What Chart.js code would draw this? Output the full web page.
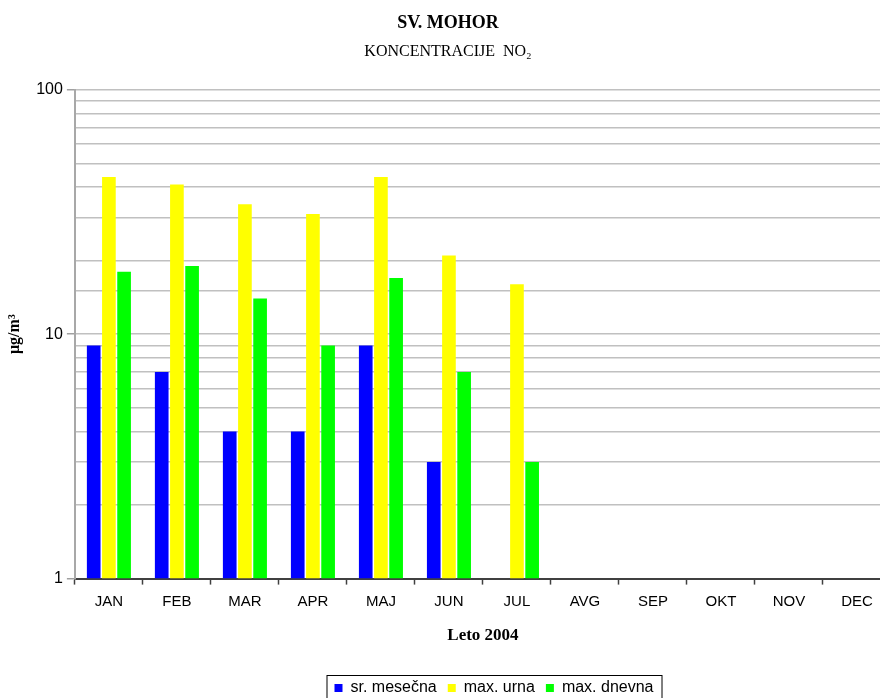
<!DOCTYPE html>
<html>
<head>
<meta charset="utf-8">
<title>SV. MOHOR - NO2</title>
<script src="https://cdn.jsdelivr.net/npm/chart.js@4.4.1/dist/chart.umd.min.js"></script>
<style>
  html, body { margin: 0; padding: 0; background: #ffffff; overflow: hidden; }
  #wrap { width: 916px; height: 706px; }
</style>
</head>
<body>
<div id="wrap"><canvas id="no2Chart" width="916" height="706"></canvas></div>
<script>
// podatki - koncentracije NO2, Sv. Mohor, leto 2004
const months = ['JAN', 'FEB', 'MAR', 'APR', 'MAJ', 'JUN', 'JUL', 'AVG', 'SEP', 'OKT', 'NOV', 'DEC'];
const srMesecna = [9, 7, 4, 4, 9, 3, null, null, null, null, null, null];
const maxUrna = [44, 41, 34, 31, 44, 21, 16, null, null, null, null, null];
const maxDnevna = [18, 19, 14, 9, 17, 7, 3, null, null, null, null, null];
const yTickLabels = [1, 10, 100];

const serif = '"Liberation Serif", "Times New Roman", serif';
const sans = '"Liberation Sans", Arial, sans-serif';

// okvir okoli legende + premik legende pod sredino grafa
const legendBox = {
    id: 'legendBox',
    afterLayout(chart) {
        chart.legend.left += 92;
    },
    afterDraw(chart) {
        const boxes = chart.legend.legendHitBoxes;
        if (!boxes || !boxes.length) return;
        const first = boxes[0];
        const last = boxes[boxes.length - 1];
        const ctx = chart.ctx;
        ctx.save();
        ctx.strokeStyle = '#000000';
        ctx.lineWidth = 1;
        ctx.strokeRect(first.left - 7.5, first.top - 4.5, last.left + last.width - first.left + 16, 26);
        ctx.restore();
    }
};

const barData = {
    labels: months,
    datasets: [{
        label: 'sr. mesečna',
        data: srMesecna,
        backgroundColor: '#0000ff'
    }, {
        label: 'max. urna',
        data: maxUrna,
        backgroundColor: '#ffff00'
    }, {
        label: 'max. dnevna',
        data: maxDnevna,
        backgroundColor: '#00ff00'
    }]
};

const config = {
    type: 'bar',
    data: barData,
    plugins: [legendBox],
    options: {
        responsive: false,
        animation: false,
        layout: {
            padding: { left: 5, right: 25, top: 0, bottom: 0 }
        },
        datasets: {
            bar: {
                categoryPercentage: 0.67,
                barPercentage: 0.9,
                borderWidth: 0
            }
        },
        plugins: {
            title: {
                display: true,
                text: 'SV. MOHOR',
                color: '#000000',
                font: { family: serif, size: 18, weight: 'bold' },
                padding: { top: 13, bottom: 8 }
            },
            subtitle: {
                display: true,
                text: 'KONCENTRACIJE  NO₂',
                color: '#000000',
                font: { family: serif, size: 16, weight: 'normal' },
                padding: { top: 0, bottom: 28 }
            },
            legend: {
                position: 'bottom',
                labels: {
                    color: '#000000',
                    font: { family: sans, size: 16 },
                    boxWidth: 8,
                    boxHeight: 8,
                    padding: 11
                }
            },
            tooltip: { enabled: false }
        },
        scales: {
            x: {
                grid: {
                    offset: true,
                    drawOnChartArea: false,
                    drawTicks: true,
                    tickLength: 6,
                    tickColor: '#404040',
                    tickWidth: 1.5
                },
                border: { color: '#404040', width: 2 },
                ticks: {
                    color: '#000000',
                    font: { family: sans, size: 15 },
                    padding: 8,
                    maxRotation: 0,
                    autoSkip: false
                },
                title: {
                    display: true,
                    text: 'Leto 2004',
                    color: '#000000',
                    font: { family: serif, size: 17, weight: 'bold' },
                    padding: { top: 7, bottom: 23 }
                }
            },
            y: {
                type: 'logarithmic',
                min: 1,
                max: 100,
                grid: {
                    color: '#c0c0c0',
                    lineWidth: 1.5,
                    drawTicks: true,
                    tickLength: 8,
                    tickColor: function(ctx) {
                        return ctx.tick && yTickLabels.includes(ctx.tick.value) ? '#a0a0a0' : 'rgba(0,0,0,0)';
                    }
                },
                border: { color: '#a8a8a8', width: 2 },
                ticks: {
                    color: '#000000',
                    font: { family: sans, size: 16 },
                    padding: 4,
                    callback: function(value) {
                        return yTickLabels.includes(value) ? String(value) : '';
                    }
                },
                title: {
                    display: true,
                    text: 'µg/m³',
                    color: '#000000',
                    font: { family: serif, size: 16, weight: 'bold' },
                    padding: { top: 0, bottom: 8 }
                }
            }
        }
    }
};

const no2Chart = new Chart(document.getElementById('no2Chart'), config);
</script>
</body>
</html>
